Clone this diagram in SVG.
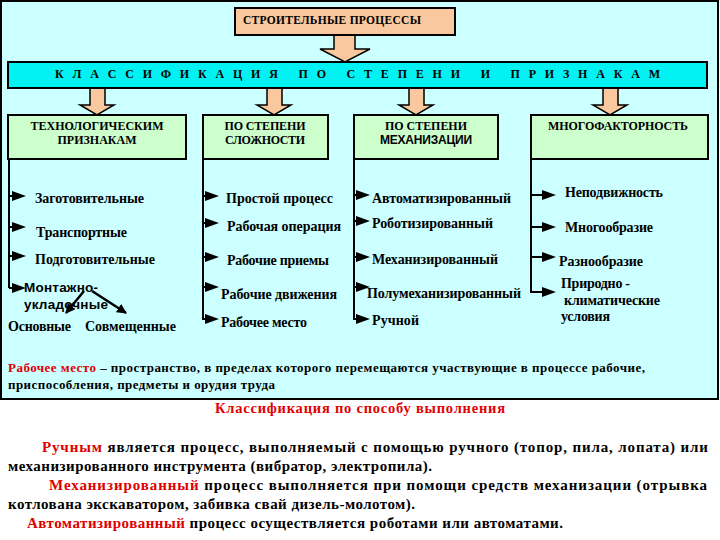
<svg xmlns="http://www.w3.org/2000/svg" width="720" height="540" viewBox="0 0 720 540">
<defs>
<style>
.s{font-family:"Liberation Serif","DejaVu Serif",serif;font-weight:bold;fill:#000}
.a{font-family:"Liberation Sans","DejaVu Sans",sans-serif;font-weight:bold;fill:#000}
.r{fill:#e00000}
.box{fill:#ccffcc;stroke:#000;stroke-width:2}
.blk{fill:#f9c89f;stroke:#000;stroke-width:1.5}
.ln{stroke:#000;stroke-width:2;fill:none}
.it{font-size:14px}
.hd{font-size:12px}
.p{font-size:15px}
</style>
<path id="tri" d="M0,-5 L14,0 L0,5 Z" fill="#000"/>
<marker id="ah" viewBox="0 0 10 10" refX="9" refY="5" markerWidth="4" markerHeight="4" orient="auto"><path d="M0,0 L10,5 L0,10 Z" fill="#000"/></marker>
</defs>
<rect x="0" y="0" width="720" height="540" fill="#fff"/>
<rect x="1" y="1" width="717" height="398" fill="#ccffff" stroke="#000" stroke-width="2"/>

<g id="connectors">
<polygon class="blk" points="334,35 355,35 355,49 370,49 345,62 320,49 334,49"/>
<polygon class="blk" points="90,88 105,88 105,105 114,105 97,115 80,105 90,105"/>
<polygon class="blk" points="267,88 282,88 282,105 291,105 274,115 257,105 267,105"/>
<polygon class="blk" points="409,88 424,88 424,105 433,105 416,115 399,105 409,105"/>
<polygon class="blk" points="603,88 618,88 618,105 627,105 610,115 593,105 603,105"/>
<path class="ln" d="M9,159 V288 M203,159 V320 M354,159 V320 M531,159 V292 H545 M531,195 H545 M531,227 H545 M531,257 H545"/>
<path class="ln" d="M9,196 H14 M9,227 H14 M9,256 H14 M9,288 H14 M203,196 H208 M203,223 H208 M203,257 H208 M203,287 H208 M203,319 H208 M354,195 H359 M354,221 H359 M354,257 H359 M354,287 H359 M354,319 H359"/>
<use href="#tri" x="12" y="196"/><use href="#tri" x="12" y="227"/><use href="#tri" x="12" y="256"/><use href="#tri" x="12" y="288"/>
<use href="#tri" x="205" y="196"/><use href="#tri" x="205" y="223"/><use href="#tri" x="205" y="257"/><use href="#tri" x="205" y="287"/><use href="#tri" x="205" y="319"/>
<use href="#tri" x="356" y="195"/><use href="#tri" x="356" y="221"/><use href="#tri" x="356" y="257"/><use href="#tri" x="356" y="287"/><use href="#tri" x="356" y="319"/>
<use href="#tri" x="542" y="195"/><use href="#tri" x="542" y="227"/><use href="#tri" x="542" y="257"/><use href="#tri" x="542" y="292"/>
</g>

<g id="title">
<rect x="235" y="8" width="220" height="27" fill="#f9c89f" stroke="#000" stroke-width="2"/>
<text class="s" x="243" y="24" font-size="11.5" textLength="178">СТРОИТЕЛЬНЫЕ ПРОЦЕССЫ</text>
</g>

<g id="classbar">
<rect x="8" y="62" width="699" height="26" fill="#00f2f2" stroke="#000" stroke-width="2"/>
<text class="s" x="55" y="78" font-size="12" xml:space="preserve" style="white-space:pre" textLength="605" lengthAdjust="spacing">К Л А С С И Ф И К А Ц И Я   П О   С Т Е П Е Н И   И   П Р И З Н А К А М</text>
</g>

<g id="box-tech">
<rect class="box" x="8" y="115" width="178" height="44"/>
<text class="s hd" x="97" y="130" text-anchor="middle" textLength="133">ТЕХНОЛОГИЧЕСКИМ</text>
<text class="s hd" x="97" y="144" text-anchor="middle" textLength="79">ПРИЗНАКАМ</text>
</g>
<g id="box-complex">
<rect class="box" x="203" y="115" width="125" height="44"/>
<text class="s hd" x="265" y="130" text-anchor="middle" textLength="81">ПО СТЕПЕНИ</text>
<text class="s hd" x="265" y="144" text-anchor="middle" textLength="80">СЛОЖНОСТИ</text>
</g>
<g id="box-mech">
<rect class="box" x="354" y="115" width="144" height="44"/>
<text class="s hd" x="426" y="130" text-anchor="middle" textLength="82">ПО СТЕПЕНИ</text>
<text class="a" font-size="12" x="426" y="144" text-anchor="middle" textLength="92">МЕХАНИЗАЦИИ</text>
</g>
<g id="box-multi">
<rect class="box" x="531" y="115" width="177" height="44"/>
<text class="s hd" x="618" y="130" text-anchor="middle" textLength="140">МНОГОФАКТОРНОСТЬ</text>
</g>

<g id="tech-items">
<text class="s it" x="35" y="203" textLength="109">Заготовительные</text>
<text class="s it" x="36" y="237" textLength="91">Транспортные</text>
<text class="s it" x="35" y="264" textLength="120">Подготовительные</text>
<text class="s it" x="8" y="331" textLength="63">Основные</text>
<text class="s it" x="85" y="331" textLength="91">Совмещенные</text>
</g>
<g id="montazh">
<text class="a" font-size="13.5" x="24" y="292" textLength="74">Монтажно-</text>
<text class="a" font-size="13.5" x="24" y="309" textLength="84">укладочные</text>
<path d="M84,291 L66,313" stroke="#000" stroke-width="2.5" marker-end="url(#ah)"/>
<path d="M92,291 L126,313" stroke="#000" stroke-width="2.5" marker-end="url(#ah)"/>
</g>
<g id="complex-items">
<text class="s it" x="226" y="203" textLength="107">Простой процесс</text>
<text class="s it" x="227" y="231" textLength="114">Рабочая операция</text>
<text class="s it" x="227" y="265" textLength="102">Рабочие приемы</text>
<text class="s it" x="221" y="299" textLength="116">Рабочие движения</text>
<text class="s it" x="221" y="327" textLength="86">Рабочее место</text>
</g>
<g id="mech-items">
<text class="s it" x="372" y="203" textLength="139">Автоматизированный</text>
<text class="s it" x="372" y="228" textLength="121">Роботизированный</text>
<text class="s it" x="372" y="264" textLength="126">Механизированный</text>
<text class="s it" x="367" y="298" textLength="154">Полумеханизированный</text>
<text class="s it" x="372" y="325" textLength="47">Ручной</text>
</g>
<g id="multi-items">
<text class="s it" x="565" y="197" textLength="98">Неподвижность</text>
<text class="s it" x="565" y="232" textLength="88">Многообразие</text>
<text class="s it" x="559" y="266" textLength="84">Разнообразие</text>
<text class="s it" x="561" y="288" textLength="69">Природно -</text>
<text class="s it" x="564" y="305" textLength="96">климатические</text>
<text class="s it" x="561" y="321" textLength="49">условия</text>
</g>

<g id="definition">
<text class="s" font-size="13" x="8" y="372" textLength="637"><tspan class="r">Рабочее место</tspan> – пространство, в пределах которого перемещаются участвующие в процессе рабочие,</text>
<text class="s" font-size="13" x="8" y="389" textLength="267">приспособления, предметы и орудия труда</text>
</g>

<g id="execution">
<text class="s r" font-size="14.5" x="215" y="413" textLength="290">Классификация по способу выполнения</text>
<text class="s p" x="42" y="452" textLength="666"><tspan class="r">Ручным</tspan> является процесс, выполняемый с помощью ручного (топор, пила, лопата) или</text>
<text class="s p" x="8" y="471" textLength="424">механизированного инструмента (вибратор, электропила).</text>
<text class="s p" x="49" y="490" textLength="658"><tspan class="r">Механизированный</tspan> процесс выполняется при помощи средств механизации (отрывка</text>
<text class="s p" x="8" y="509" textLength="407">котлована экскаватором, забивка свай дизель-молотом).</text>
<text class="s p" x="27" y="528" textLength="536"><tspan class="r">Автоматизированный</tspan> процесс осуществляется роботами или автоматами.</text>
</g>
</svg>
